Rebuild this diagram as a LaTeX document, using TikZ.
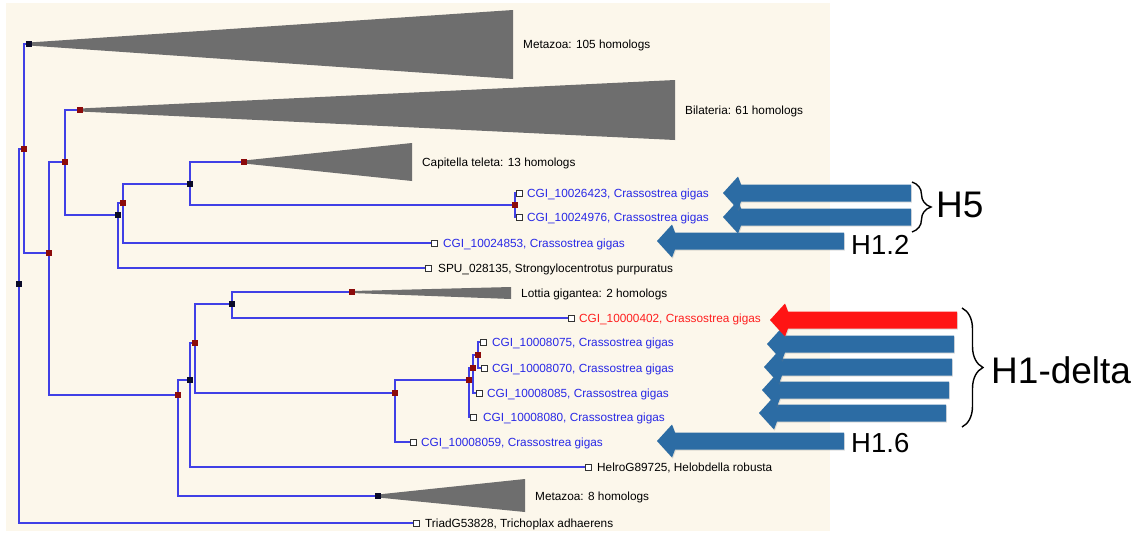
\documentclass[tikz,border=0pt]{standalone}
\usepackage{fontspec}
\setmainfont{Liberation Sans}
\usetikzlibrary{decorations.pathreplacing,shadows}
\pgfdeclarelayer{bg}
\pgfdeclarelayer{edges}
\pgfsetlayers{bg,edges,main}
\definecolor{paper}{RGB}{252,247,235}
\definecolor{branch}{RGB}{64,64,230}
\definecolor{leafblue}{RGB}{40,40,230}
\definecolor{hitred}{RGB}{255,30,30}
\definecolor{nodered}{RGB}{140,10,10}
\definecolor{nodeblack}{RGB}{10,10,40}
\definecolor{clade}{RGB}{110,110,110}
\definecolor{arrblue}{RGB}{44,108,164}
\definecolor{arrred}{RGB}{255,20,20}
\newcommand{\blockarr}[4]{%
  \fill[#1, drop shadow={shadow xshift=0.8pt, shadow yshift=-1.2pt, opacity=0.25}]
    (#2,#3) -- (#2+15,#3-16.5) -- (#2+18,#3-8.5) -- (#4,#3-8.5) -- (#4,#3+8.5)
    -- (#2+18,#3+8.5) -- (#2+15,#3+16.5) -- cycle;}
\begin{document}
\begin{tikzpicture}[x=1pt,y=-1pt,
  inode/.style={rectangle, minimum size=6.5pt, inner sep=0pt, fill=#1},
  rnode/.style={inode=nodered},
  bnode/.style={inode=nodeblack},
  leafbox/.style={rectangle, minimum size=6pt, inner sep=0pt, draw=black!80, fill=white, line width=0.8pt},
  branchline/.style={draw=branch, line width=1.3pt},
  lab/.style={anchor=base west, inner sep=0pt, font=\fontsize{11.8}{13}\selectfont, text=black},
  gene/.style={lab, text=leafblue},
  bigtxt/.style={anchor=west, inner sep=0pt, font=\fontsize{37}{40}\selectfont},
  midtxt/.style={anchor=west, inner sep=0pt, font=\fontsize{27.5}{30}\selectfont},
  hbrace/.style={decorate, decoration={brace, amplitude=#1}, line width=1.4pt},
]
\useasboundingbox (0,0) rectangle (1148,533);
\begin{pgfonlayer}{bg}
  \fill[paper] (6,3) rectangle (830,531);
\end{pgfonlayer}

% internal nodes
\node[bnode] (root) at (19,284) {};
\node[rnode] (n1) at (24,149) {};
\node[bnode] (cMetaA) at (29,44) {};
\node[rnode] (n2) at (49,253) {};
\node[rnode] (n3) at (65,162) {};
\node[rnode] (cBil) at (80,110) {};
\node[bnode] (n4) at (118,215) {};
\node[rnode] (n5) at (123,203) {};
\node[bnode] (n6) at (190,184) {};
\node[rnode] (cCap) at (244,162) {};
\node[rnode] (n7) at (515,205) {};
\node[rnode] (n8) at (178,395) {};
\node[bnode] (n9) at (190,380) {};
\node[rnode] (n10) at (195,343) {};
\node[bnode] (n11) at (232,304) {};
\node[rnode] (cLot) at (352,292) {};
\node[rnode] (n12) at (395,393) {};
\node[rnode] (n13) at (469,380) {};
\node[rnode] (n14) at (473,368) {};
\node[rnode] (n15) at (478,355) {};
\node[bnode] (cMetaB) at (378,496) {};

% leaves
\node[leafbox] (lA) at (519,193) {};
\node[leafbox] (lB) at (519,217) {};
\node[leafbox] (lC) at (434,243) {};
\node[leafbox] (lSPU) at (428,268) {};
\node[leafbox] (lR) at (571,318) {};
\node[leafbox] (lD) at (483,342) {};
\node[leafbox] (lE) at (484,368) {};
\node[leafbox] (lF) at (479,393) {};
\node[leafbox] (lG) at (473,417) {};
\node[leafbox] (lH) at (413,442) {};
\node[leafbox] (lHel) at (588,467) {};
\node[leafbox] (lTri) at (416,523) {};

\begin{pgfonlayer}{edges}
  \foreach \p/\c in {root/n1, root/lTri, n1/cMetaA, n1/n2, n2/n3, n2/n8,
      n3/cBil, n3/n4, n4/n5, n4/lSPU, n5/n6, n5/lC, n6/cCap, n6/n7,
      n7/lA, n7/lB, n8/n9, n8/cMetaB, n9/n10, n9/lHel, n10/n11, n10/n12,
      n11/cLot, n11/lR, n12/n13, n12/lH, n13/n14, n13/lG, n14/n15, n14/lF,
      n15/lD, n15/lE}
    \draw[branchline] (\p.center) |- (\c);
  % collapsed clades
  \fill[clade] ([yshift=1.5pt]cMetaA.center) -- (513,10) -- (513,79) -- ([yshift=-1.5pt]cMetaA.center) -- cycle;
  \fill[clade] ([yshift=1.5pt]cBil.center) -- (675,80) -- (675,140) -- ([yshift=-1.5pt]cBil.center) -- cycle;
  \fill[clade] ([yshift=1.5pt]cCap.center) -- (412,143) -- (412,181) -- ([yshift=-1.5pt]cCap.center) -- cycle;
  \fill[clade] ([yshift=1pt]cLot.center) -- (511,287) -- (511,299) -- ([yshift=-1pt]cLot.center) -- cycle;
  \fill[clade] ([yshift=1.5pt]cMetaB.center) -- (525,479) -- (525,512) -- ([yshift=-1.5pt]cMetaB.center) -- cycle;
\end{pgfonlayer}

% labels
\node[lab] (tMetaA) at (523,48) {Metazoa: 105 homologs};
\node[lab] (tBil) at (685,114) {Bilateria: 61 homologs};
\node[lab] (tCap) at (422,166) {Capitella teleta: 13 homologs};
\node[gene] (tA) at (527,197) {CGI\_10026423, Crassostrea gigas};
\node[gene] (tB) at (527,221) {CGI\_10024976, Crassostrea gigas};
\node[gene] (tC) at (443,247) {CGI\_10024853, Crassostrea gigas};
\node[lab] (tSPU) at (438,272) {SPU\_028135, Strongylocentrotus purpuratus};
\node[lab] (tLot) at (521,297) {Lottia gigantea: 2 homologs};
\node[lab, text=hitred] (tR) at (579,322) {CGI\_10000402, Crassostrea gigas};
\node[gene] (tD) at (492,346) {CGI\_10008075, Crassostrea gigas};
\node[gene] (tE) at (492,372) {CGI\_10008070, Crassostrea gigas};
\node[gene] (tF) at (487,397) {CGI\_10008085, Crassostrea gigas};
\node[gene] (tG) at (483,421) {CGI\_10008080, Crassostrea gigas};
\node[gene] (tH) at (421,446) {CGI\_10008059, Crassostrea gigas};
\node[lab] (tHel) at (597,471) {HelroG89725, Helobdella robusta};
\node[lab] (tMetaB) at (535,500) {Metazoa: 8 homologs};
\node[lab] (tTri) at (425,527) {TriadG53828, Trichoplax adhaerens};

% annotation arrows
\blockarr{arrblue}{723}{217}{911}
\blockarr{arrblue}{723}{193}{911}
\blockarr{arrblue}{657}{241}{844}
\blockarr{arrblue}{759}{413}{946}
\blockarr{arrblue}{762}{390}{949}
\blockarr{arrblue}{764}{367}{952}
\blockarr{arrblue}{767}{344}{954}
\blockarr{arrred}{770}{320}{957}
\blockarr{arrblue}{657}{441}{844}

% braces and group labels
\coordinate (bAtop) at (912,182);
\coordinate (bAbot) at (912,232);
\draw[hbrace=19pt] (bAtop) -- (bAbot);
\coordinate (bBtop) at (962,308);
\coordinate (bBbot) at (962,427);
\draw[hbrace=21pt] (bBtop) -- (bBbot);
\node[bigtxt] (gH5) at (936,205) {H5};
\node[midtxt] (gH12) at (851,245) {H1.2};
\node[bigtxt] (gHd) at (991,370) {H1-delta};
\node[midtxt] (gH16) at (851,443) {H1.6};
\end{tikzpicture}
\end{document}
